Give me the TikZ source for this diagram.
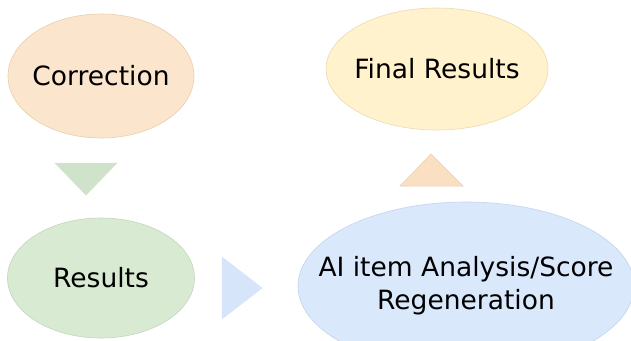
\documentclass[tikz,border=0pt]{standalone}
\usepackage{fontspec}
\setmainfont{DejaVu Sans}
\usetikzlibrary{shapes.geometric}
\definecolor{peach}{HTML}{FCE5CD}
\definecolor{peachline}{HTML}{E8CFAE}
\definecolor{cream}{HTML}{FFF2CC}
\definecolor{creamline}{HTML}{EADBB0}
\definecolor{mint}{HTML}{D9EAD3}
\definecolor{mintline}{HTML}{C3D8BC}
\definecolor{sky}{HTML}{DAE8FC}
\definecolor{skyline}{HTML}{C2D4EE}
\definecolor{mintarrow}{HTML}{CFE3CB}
\definecolor{skyarrow}{HTML}{D6E5FA}
\definecolor{peacharrow}{HTML}{FBDFC2}
\tikzset{
  x=1pt, y=-1pt,
  labelfont/.style={font=\fontsize{26.5}{33}\selectfont, align=center, text=black, inner sep=0pt},
  stage/.style={ellipse, inner sep=0pt, line width=0.6pt},
  pointer/.style={line width=0.5pt}
}
\begin{document}
\begin{tikzpicture}
  \useasboundingbox (0,0) rectangle (631,340);
  \clip (0,0) rectangle (631,340);
  \fill[white] (0,0) rectangle (631,340);

  % stage ellipses (shapes first, captions placed on their centres)
  \node[stage, fill=peach, draw=peachline, minimum width=186pt, minimum height=124pt]
    (corr) at (101,76) {};
  \node[labelfont] (corrlabel) at (corr.center) {Correction};

  \node[stage, fill=cream, draw=creamline, minimum width=222pt, minimum height=122pt]
    (final) at (437,69) {};
  \node[labelfont] (finallabel) at (final.center) {Final Results};

  \node[stage, fill=mint, draw=mintline, minimum width=187pt, minimum height=120pt]
    (res) at (101,278) {};
  \node[labelfont] (reslabel) at (res.center) {Results};

  \node[stage, fill=sky, draw=skyline, minimum width=336pt, minimum height=168pt]
    (ai) at (466,286) {};
  \node[labelfont] (ailabel) at (ai.center) {AI item Analysis/Score\\Regeneration};

  % direction markers between the stages
  \coordinate (dA) at (55,163);
  \coordinate (dB) at (117,163);
  \coordinate (dC) at (86,195);
  \filldraw[pointer, fill=mintarrow, draw=mintarrow] (dA) -- (dB) -- (dC) -- cycle;

  \coordinate (rA) at (222,257);
  \coordinate (rB) at (262,288);
  \coordinate (rC) at (222,319);
  \filldraw[pointer, fill=skyarrow, draw=skyarrow] (rA) -- (rB) -- (rC) -- cycle;

  \coordinate (uA) at (400,186);
  \coordinate (uB) at (431,154);
  \coordinate (uC) at (463,186);
  \filldraw[pointer, fill=peacharrow, draw=peachline] (uA) -- (uB) -- (uC) -- cycle;
\end{tikzpicture}
\end{document}
